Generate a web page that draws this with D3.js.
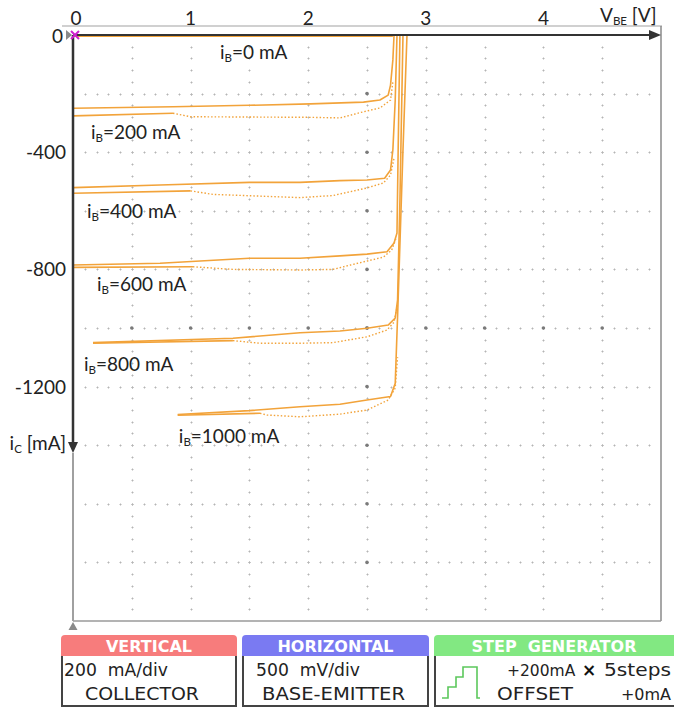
<!DOCTYPE html>
<html>
<head>
<meta charset="utf-8">
<script src="https://cdn.jsdelivr.net/npm/d3@7"></script>
<style>
  html, body { margin: 0; padding: 0; background: #fff; }
  svg { display: block; }
</style>
</head>
<body>
<svg id="chart" width="674" height="708"></svg>
<script>
// Axis ticks
const xTickValues = [0, 1, 2, 3, 4];
const yTickValues = [0, -400, -800, -1200];

// Base current steps (mA)
const baseCurrents = [0, 200, 400, 600, 800, 1000];

// Forward sweep of each step, [V_BE (V), i_C (mA)]
const trace0Up = [[0, -4], [1.65, -4], [2.72, -4]];
const trace200Up = [[0, -250], [0.85, -245], [1.5, -240], [2.02, -235], [2.47, -229], [2.61, -222], [2.68, -205], [2.70, -171], [2.72, -85], [2.73, 0]];
const trace400Up = [[0, -521], [0.74, -512], [1.5, -503], [1.93, -503], [2.27, -497], [2.5, -495], [2.65, -489], [2.70, -461], [2.72, -392], [2.74, -222], [2.755, 0]];
const trace600Up = [[0, -785], [0.74, -779], [1.5, -762], [1.93, -762], [2.27, -754], [2.5, -748], [2.67, -740], [2.73, -710], [2.755, -676], [2.765, -392], [2.78, 0]];
const trace800Up = [[0.17, -1050], [1.36, -1035], [1.93, -1016], [2.27, -1010], [2.5, -1001], [2.68, -990], [2.74, -966], [2.76, -904], [2.78, -563], [2.806, 0]];
const trace1000Up = [[0.89, -1295], [1.5, -1282], [1.93, -1269], [2.27, -1260], [2.5, -1246], [2.70, -1234], [2.74, -1189], [2.76, -961], [2.806, -392], [2.84, 0]];

// Return sweep of each step, [V_BE (V), i_C (mA)]
const trace200Down = [[0, -276], [0.85, -267], [1.0, -279], [2.02, -281], [2.27, -283], [2.47, -262], [2.61, -249], [2.70, -222], [2.72, -160]];
const trace400Down = [[0, -540], [1.0, -532], [1.19, -544], [1.93, -555], [2.21, -548], [2.5, -522], [2.64, -505], [2.70, -478], [2.73, -420]];
const trace600Down = [[0, -793], [1.02, -791], [1.36, -800], [1.93, -802], [2.21, -800], [2.36, -785], [2.64, -758], [2.71, -734], [2.75, -690]];
const trace800Down = [[0.17, -1052], [1.36, -1043], [1.59, -1052], [1.93, -1052], [2.21, -1050], [2.5, -1030], [2.67, -1007], [2.73, -980], [2.76, -920]];
const trace1000Down = [[0.89, -1298], [1.59, -1291], [1.65, -1297], [1.93, -1303], [2.27, -1294], [2.5, -1280], [2.68, -1246], [2.74, -1205], [2.76, -1100]];

// Voltage where each return sweep turns from solid to dotted
const returnSolidUntil = [0, 0.85, 1.0, 1.02, 1.36, 1.59];

// Label anchor of each step, [V_BE, i_C]
const labelAnchors = [[1.25, -61], [0.153, -334], [0.119, -604], [0.204, -853], [0.094, -1126], [0.90, -1372]];

// Instrument settings
const verticalSetting = ["200  mA/div", "COLLECTOR"];
const horizontalSetting = ["500  mV/div", "BASE-EMITTER"];
const stepSetting = ["+200mA", "5steps", "OFFSET", "+0mA"];

const upTraces = [trace0Up, trace200Up, trace400Up, trace600Up, trace800Up, trace1000Up];
const downTraces = [null, trace200Down, trace400Down, trace600Down, trace800Down, trace1000Down];

const svg = d3.select("#chart");
const plotLeft = 73, plotRight = 661, plotTop = 35, plotBottom = 621;

const x = d3.scaleLinear().domain([0, 5]).range([plotLeft, plotRight]);
const y = d3.scaleLinear().domain([0, -2000]).range([plotTop, plotBottom]);

const traceColor = "#f2a33a";
const labelFont = "Lato, 'Open Sans', sans-serif";
const panelFont = "'DejaVu Sans', sans-serif";
const labelSize = 19;

// ---- frame ----
svg.append("line").attr("x1", 62).attr("x2", 662).attr("y1", 26).attr("y2", 26)
  .attr("stroke", "#d0d0d0").attr("stroke-width", 2);
svg.append("line").attr("x1", plotRight).attr("x2", plotRight).attr("y1", 26).attr("y2", plotBottom)
  .attr("stroke", "#8a8a8a").attr("stroke-width", 1.5);
svg.append("line").attr("x1", plotLeft).attr("x2", plotRight).attr("y1", plotBottom).attr("y2", plotBottom)
  .attr("stroke", "#9a9a9a").attr("stroke-width", 1.5);

// ---- dotted graticule ----
const grid = svg.append("g");
const colVals = d3.range(1, 10).map(i => i * 0.5);
const rowVals = d3.range(1, 10).map(i => -i * 200);
const minorY = d3.range(0, 51).map(i => -i * 40);
const minorX = d3.range(0, 51).map(i => i * 0.1);

function cross(g, cx, cy, s, col) {
  g.append("path")
    .attr("d", `M${cx - s},${cy}H${cx + s}M${cx},${cy - s}V${cy + s}`)
    .attr("stroke", col).attr("stroke-width", 1).attr("fill", "none");
}
colVals.forEach(v => {
  minorY.forEach(i => {
    if (i === 0 || i === -2000) return;
    cross(grid, Math.round(x(v)) + 0.5, Math.round(y(i)) + 0.5, 1, "#b4b4b4");
  });
});
rowVals.forEach(i => {
  minorX.forEach(v => {
    if (v === 0 || v === 5) return;
    cross(grid, Math.round(x(v)) + 0.5, Math.round(y(i)) + 0.5, 1, "#b4b4b4");
  });
});
// emphasised intersections on the centre lines
rowVals.forEach(i => grid.append("circle").attr("cx", x(2.5)).attr("cy", y(i)).attr("r", 1.8).attr("fill", "#7a7a7a"));
colVals.forEach(v => grid.append("circle").attr("cx", x(v)).attr("cy", y(-1000)).attr("r", 1.8).attr("fill", "#7a7a7a"));

// ---- traces ----
const line = d3.line().x(d => x(d[0])).y(d => y(d[1]));
const traces = svg.append("g");
upTraces.forEach(t => {
  traces.append("path").attr("d", line(t)).attr("fill", "none")
    .attr("stroke", traceColor).attr("stroke-width", 1.6).attr("stroke-linejoin", "round");
});
downTraces.forEach((t, k) => {
  if (!t) return;
  const split = returnSolidUntil[k];
  const solid = t.filter(d => d[0] <= split);
  const dotted = t.filter(d => d[0] >= split);
  traces.append("path").attr("d", line(solid)).attr("fill", "none")
    .attr("stroke", traceColor).attr("stroke-width", 1.6);
  traces.append("path").attr("d", line(dotted)).attr("fill", "none")
    .attr("stroke", traceColor).attr("stroke-width", 1.4).attr("stroke-dasharray", "1.5,2");
});

// ---- axes ----
const axes = svg.append("g");
// y axis: dark to the arrow, grey below
const yArrowTip = 453;
axes.append("line").attr("x1", plotLeft).attr("x2", plotLeft).attr("y1", yArrowTip).attr("y2", plotBottom)
  .attr("stroke", "#a0a0a0").attr("stroke-width", 2);
axes.append("line").attr("x1", plotLeft).attr("x2", plotLeft).attr("y1", plotTop).attr("y2", yArrowTip - 6)
  .attr("stroke", "#333").attr("stroke-width", 2.5);
axes.append("path").attr("d", `M${plotLeft - 5},${yArrowTip - 11}L${plotLeft + 5},${yArrowTip - 11}L${plotLeft},${yArrowTip}Z`)
  .attr("fill", "#333");
// bottom marker
axes.append("path").attr("d", `M${plotLeft - 4.5},${plotBottom + 9}L${plotLeft + 4.5},${plotBottom + 9}L${plotLeft},${plotBottom + 1}Z`)
  .attr("fill", "#8a8a8a");
// x axis
axes.append("line").attr("x1", plotLeft).attr("x2", plotRight - 8).attr("y1", plotTop).attr("y2", plotTop)
  .attr("stroke", "#333").attr("stroke-width", 2);
axes.append("path").attr("d", `M${plotRight - 12},${plotTop - 5}L${plotRight},${plotTop}L${plotRight - 12},${plotTop + 5}Z`)
  .attr("fill", "#333");
// zero marker and origin cross
axes.append("path").attr("d", `M66,30L72,35L66,40Z`).attr("fill", "#8a8a8a");
axes.append("path").attr("d", `M${plotLeft - 2},${plotTop - 4}L${plotLeft + 6},${plotTop + 4}M${plotLeft + 6},${plotTop - 4}L${plotLeft - 2},${plotTop + 4}`)
  .attr("stroke", "#d020d0").attr("stroke-width", 2);

// tick labels
svg.append("g").selectAll("text").data(xTickValues).join("text")
  .attr("x", d => x(d) + (d === 0 ? 3 : 0)).attr("y", 25)
  .attr("text-anchor", "middle").attr("font-family", labelFont).attr("font-size", labelSize)
  .attr("fill", "#222").text(d => d);
svg.append("g").selectAll("text").data(yTickValues).join("text")
  .attr("x", d => d === 0 ? 63 : 66).attr("y", d => y(d) + (d === 0 ? 8 : 7))
  .attr("text-anchor", "end").attr("font-family", labelFont).attr("font-size", labelSize)
  .attr("fill", "#222").text(d => d);

// axis titles
const xt = svg.append("text").attr("x", 600).attr("y", 22).attr("font-family", labelFont)
  .attr("font-size", labelSize).attr("fill", "#222");
xt.append("tspan").text("V");
xt.append("tspan").attr("font-size", 11.5).attr("dy", 3).text("BE");
xt.append("tspan").attr("dy", -3).text(" [V]");

const yt = svg.append("text").attr("x", 66).attr("y", 450).attr("text-anchor", "end")
  .attr("font-family", labelFont).attr("font-size", labelSize).attr("fill", "#222");
yt.append("tspan").text("i");
yt.append("tspan").attr("font-size", 11.5).attr("dy", 3).text("C");
yt.append("tspan").attr("dy", -3).text(" [mA]");

// step labels
baseCurrents.forEach((ib, k) => {
  const a = labelAnchors[k];
  const t = svg.append("text").attr("x", x(a[0])).attr("y", y(a[1]) + 6)
    .attr("font-family", labelFont).attr("font-size", labelSize).attr("fill", "#222");
  t.append("tspan").text("i");
  t.append("tspan").attr("font-size", 11.5).attr("dy", 3).text("B");
  t.append("tspan").attr("dy", -3).text(`=${ib} mA`);
});

// ---- settings panel ----
const panel = svg.append("g");
const headTop = 635, headBottom = 656, bodyBottom = 706;
const boxes = [
  { x0: 61, x1: 237, color: "#f77c7c", title: "VERTICAL" },
  { x0: 242, x1: 429, color: "#7a7af2", title: "HORIZONTAL" },
  { x0: 434, x1: 678, color: "#82e882", title: "STEP  GENERATOR" }
];
boxes.forEach(b => {
  const r = 4;
  panel.append("path")
    .attr("d", `M${b.x0},${headBottom}V${headTop + r}Q${b.x0},${headTop} ${b.x0 + r},${headTop}H${b.x1 - r}Q${b.x1},${headTop} ${b.x1},${headTop + r}V${headBottom}Z`)
    .attr("fill", b.color);
  panel.append("path")
    .attr("d", `M${b.x0 + 1},${headBottom}V${bodyBottom}H${b.x1 - 1}V${headBottom}`)
    .attr("fill", "none").attr("stroke", "#444").attr("stroke-width", 2);
  panel.append("text").attr("x", (b.x0 + Math.min(b.x1, 674)) / 2).attr("y", headBottom - 4.5)
    .attr("text-anchor", "middle").attr("font-family", panelFont).attr("font-weight", "bold")
    .attr("font-size", 16).attr("fill", "#fff").attr("xml:space", "preserve").text(b.title);
});
// settings text; fitted width where one is given
function panelText(tx, ty, s, width, size, anchor) {
  const t = panel.append("text").attr("x", tx).attr("y", ty)
    .attr("text-anchor", anchor || "start")
    .attr("font-family", panelFont).attr("font-size", size || 17).attr("fill", "#222")
    .attr("xml:space", "preserve").text(s);
  if (width) t.attr("textLength", width).attr("lengthAdjust", "spacingAndGlyphs");
}
panelText(64, 676, verticalSetting[0], 104);
panelText(85, 700, verticalSetting[1], 114);
panelText(256, 676, horizontalSetting[0], 104);
panelText(262, 700, horizontalSetting[1], 143);
panelText(507, 676, stepSetting[0], null, 15.5);
panel.append("text").attr("x", 589).attr("y", 676).attr("text-anchor", "middle")
  .attr("font-family", panelFont).attr("font-weight", "bold").attr("font-size", 17).attr("fill", "#111").text("\u00d7");
panelText(604, 676, stepSetting[1], 67);
panelText(497, 700, stepSetting[2], 76);
panelText(671, 700, stepSetting[3], null, 16, "end");
// staircase icon
panel.append("path")
  .attr("d", "M442,698H448V687H456V677H463V667H477V698H480")
  .attr("fill", "none").attr("stroke", "#5cc85c").attr("stroke-width", 1.6);
</script>
</body>
</html>
